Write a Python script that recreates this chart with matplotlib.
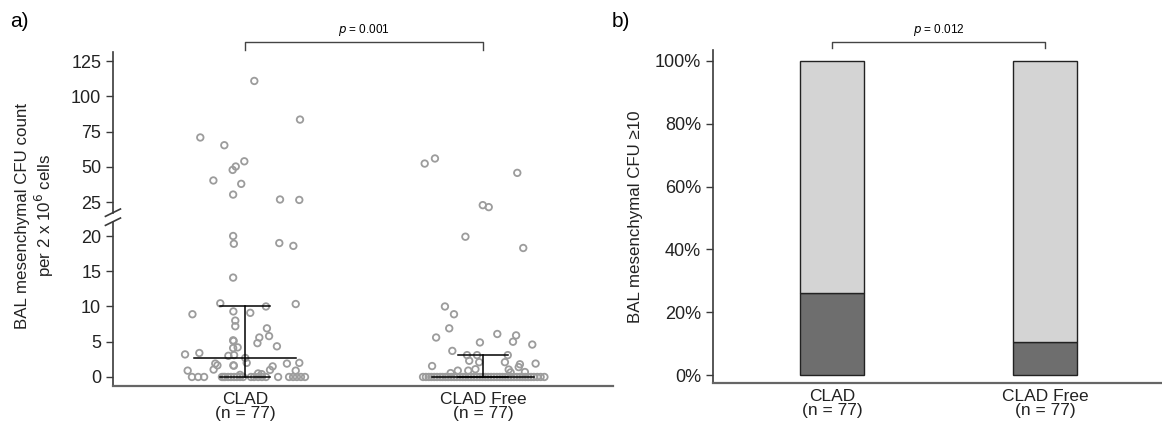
import numpy as np
import matplotlib
matplotlib.use("Agg")
import matplotlib.pyplot as plt

plt.rcParams['font.family'] = ['Liberation Sans', 'DejaVu Sans']

# DATA
# ========================================================
groups = ["CLAD\n(n = 77)", "CLAD Free\n(n = 77)"]

clad_vals = [111, 83.6, 70.9, 65.4, 54, 50.3, 47.9, 40.4, 38, 30.4, 26.9, 26.6,
             20, 18.9, 19.0, 18.6, 14.1,
             10.45, 10.0, 10.35, 8.9, 9.3, 9.1, 8.0, 7.2, 6.9, 5.6, 5.8, 4.8, 4.35,
             5.2, 5.1, 4.1, 4.2, 3.2, 3.4, 3.1, 3.0, 2.7,
             2.0, 1.9, 1.65, 1.65, 1.6, 1.05, 0.9, 1.9, 2.0, 1.5, 1.0, 0.9, 0.5, 0.3, 0.4,
             0, 0, 0, 0, 0, 0, 0, 0, 0, 0, 0, 0, 0, 0, 0, 0, 0, 0, 0, 0, 0, 0, 0]
clad_jit = [0.039, 0.231, -0.188, -0.087, -0.003, -0.039, -0.052, -0.133, -0.016, -0.050, 0.147, 0.228,
            -0.050, -0.047, 0.144, 0.203, -0.050,
            -0.104, 0.088, 0.213, -0.221, -0.049, 0.022, -0.041, -0.041, 0.092, 0.060, 0.101, 0.052, 0.134,
            -0.050, -0.048, -0.050, -0.031, -0.252, -0.192, -0.046, -0.070, 0.001,
            0.007, -0.125, -0.116, -0.049, -0.047, -0.132, -0.241, 0.176, 0.228, 0.116, 0.105, 0.213, 0.055, -0.021, 0.070,
            -0.223, -0.197, -0.172, -0.097, -0.084, -0.071, -0.059, -0.046, -0.034, -0.021, -0.008,
            0.025, 0.038, 0.055, 0.071, 0.088, 0.139, 0.185, 0.202, 0.218, 0.235, 0.252, -0.090]

free_vals = [56, 52.4, 45.8, 22.9, 21.5, 19.9, 18.3,
             10.0, 8.9, 6.9, 5.6, 6.1, 5.9, 5.0, 4.6, 4.9, 3.7, 3.1, 3.1, 3.1,
             2.3, 2.1, 2.1, 1.55, 1.8, 1.9, 1.4, 1.05, 1.1, 0.9, 0.9, 0.55, 0.7, 0.65,
             0, 0, 0, 0, 0, 0, 0, 0, 0, 0, 0, 0, 0, 0, 0, 0, 0, 0, 0, 0, 0, 0,
             0, 0, 0, 0, 0, 0, 0, 0, 0, 0, 0, 0, 0, 0, 0, 0, 0, 0, 0, 0, 0]
free_jit = [-0.202, -0.245, 0.144, -0.001, 0.024, -0.074, 0.169,
            -0.160, -0.122, -0.142, -0.197, 0.060, 0.139, 0.126, 0.207, -0.013, -0.129, -0.067, -0.025, 0.104,
            -0.058, -0.016, 0.092, -0.214, 0.155, 0.221, 0.150, 0.108, -0.032, -0.062, -0.106, -0.136, 0.176, 0.116,
            -0.252, -0.240, -0.228, -0.217, -0.205, -0.193, -0.180, -0.170, -0.158, -0.146, -0.133, -0.121,
            -0.110, -0.097, -0.085, -0.074, -0.061, -0.050, -0.038, -0.026, -0.014, -0.002,
            0.010, 0.022, 0.034, 0.046, 0.058, 0.070, 0.082, 0.094, 0.106, 0.118, 0.130,
            0.142, 0.154, 0.166, 0.178, 0.190, 0.202, 0.214, 0.228, 0.242, 0.258]

p_values = ["0.001", "0.012"]

# share with CFU >= 10 (counts out of 77)
high_frac = [20 / 77, 8 / 77]
low_frac = [57 / 77, 69 / 77]

pct_ticks = [0, 0.2, 0.4, 0.6, 0.8, 1.0]
pct_labels = ["0%", "20%", "40%", "60%", "80%", "100%"]
count_ticks = [0, 5, 10, 15, 20, 25, 50, 75, 100, 125]
# ========================================================

AXCOL = "#3a3a3a"
PTCOL = "#9c9c9c"


def fwd(v):
    ''' broken y axis: 0-20 linear, above 25 compressed 5x '''
    v = np.asarray(v, dtype=float)
    return np.where(v <= 20, v, np.where(v <= 21, 20 + (v - 20) * 4.0, 24.8 + (v - 25) / 5.0))


def inv(p):
    p = np.asarray(p, dtype=float)
    return np.where(p <= 20, p, np.where(p <= 24, 20 + (p - 20) / 4.0, 25 + (p - 24.8) * 5.0))


fig = plt.figure(figsize=(11.62, 4.32), dpi=100)

# ---------------- panel a ----------------
ax = fig.add_axes([0.0972, 0.1065, 0.4303, 0.773])
ax.set_yscale("function", functions=(fwd, inv))
ax.set_ylim(-1.28, 131.5)
ax.set_xlim(0.445, 2.546)

for i, (vals, jit) in enumerate([(clad_vals, clad_jit), (free_vals, free_jit)]):
    xs = i + 1 + np.array(jit)
    ax.scatter(xs, vals, s=22, facecolors="none", edgecolors=PTCOL, linewidths=1.3, zorder=2)
    q1, med, q3 = np.percentile(vals, [25, 50, 75])
    x0 = i + 1
    ax.plot([x0 - 0.215, x0 + 0.215], [med, med], color="black", lw=1.1, zorder=3)
    ax.plot([x0, x0], [q1, q3], color="black", lw=1.1, zorder=3)
    ax.plot([x0 - 0.107, x0 + 0.107], [q3, q3], color="black", lw=1.1, zorder=3)
    ax.plot([x0 - 0.107, x0 + 0.107], [q1, q1], color="black", lw=1.1, zorder=3)

ax.set_yticks(count_ticks)
ax.set_yticklabels([str(t) for t in count_ticks])
ax.set_xticks([1, 2])
ax.set_xticklabels(groups, fontsize=12.5, linespacing=0.95)
ax.tick_params(axis="x", length=0, pad=4, colors="#222222")
ax.tick_params(axis="y", length=5, width=1, colors=AXCOL, labelsize=13, labelcolor="#222222")
ax.minorticks_off()

for s in ["top", "right", "left"]:
    ax.spines[s].set_visible(False)
ax.spines["bottom"].set_color("#666666")
ax.spines["bottom"].set_linewidth(1.6)

# left spine drawn in two pieces with break marks
lo, hi = 0.492, 0.519
ax.plot([0, 0], [0, lo], transform=ax.transAxes, color=AXCOL, lw=1.2, clip_on=False)
ax.plot([0, 0], [hi, 1], transform=ax.transAxes, color=AXCOL, lw=1.2, clip_on=False)
for c in (lo, hi):
    ax.plot([-0.015, 0.015], [c - 0.011, c + 0.011], transform=ax.transAxes,
            color=AXCOL, lw=1.2, clip_on=False)

ax.set_ylabel("BAL mesenchymal CFU count\nper 2 x 10$^6$ cells", fontsize=12.2,
              color="#222222", linespacing=1.15)
ax.yaxis.set_label_coords(-0.114, 0.51)

# significance bracket
ax.plot([1, 1, 2, 2], [133, 138.5, 138.5, 133], color="#444444", lw=1, clip_on=False)
ax.annotate(f"$p$ = {p_values[0]}", xy=(1.5, 138.5), xytext=(0, 3), textcoords="offset points",
            ha="center", va="bottom", fontsize=8.5, annotation_clip=False)

fig.text(0.009, 0.95, "a)", fontsize=15, ha="left", va="center")

# ---------------- panel b ----------------
bx = fig.add_axes([0.6136, 0.1134, 0.3864, 0.771])
bx.set_ylim(-0.0255, 1.035)
bx.set_xlim(0.441, 2.549)
xpos = [1, 2]
bx.bar(xpos, high_frac, width=0.30, color="#6e6e6e", edgecolor="#222222", linewidth=1, zorder=2)
bx.bar(xpos, low_frac, bottom=high_frac, width=0.30, color="#d4d4d4", edgecolor="#222222",
       linewidth=1, zorder=2)

bx.set_yticks(pct_ticks)
bx.set_yticklabels(pct_labels)
bx.set_xticks(xpos)
bx.set_xticklabels(groups, fontsize=12.5, linespacing=0.95)
bx.tick_params(axis="x", length=0, pad=4, colors="#222222")
bx.tick_params(axis="y", length=5, width=1, colors=AXCOL, labelsize=13, labelcolor="#222222")
for s in ["top", "right"]:
    bx.spines[s].set_visible(False)
bx.spines["left"].set_color(AXCOL)
bx.spines["left"].set_linewidth(1.2)
bx.spines["bottom"].set_color("#666666")
bx.spines["bottom"].set_linewidth(1.6)
bx.set_ylabel("BAL mesenchymal CFU \u226510", fontsize=12.2, color="#222222")
bx.yaxis.set_label_coords(-0.156, 0.5)

bx.plot([1, 1, 2, 2], [1.041, 1.0605, 1.0605, 1.041], color="#444444", lw=1, clip_on=False)
bx.annotate(f"$p$ = {p_values[1]}", xy=(1.5, 1.0605), xytext=(0, 3), textcoords="offset points",
            ha="center", va="bottom", fontsize=8.5, annotation_clip=False)

fig.text(0.526, 0.95, "b)", fontsize=15, ha="left", va="center")

fig.savefig("out.png", dpi=100, facecolor="white")
